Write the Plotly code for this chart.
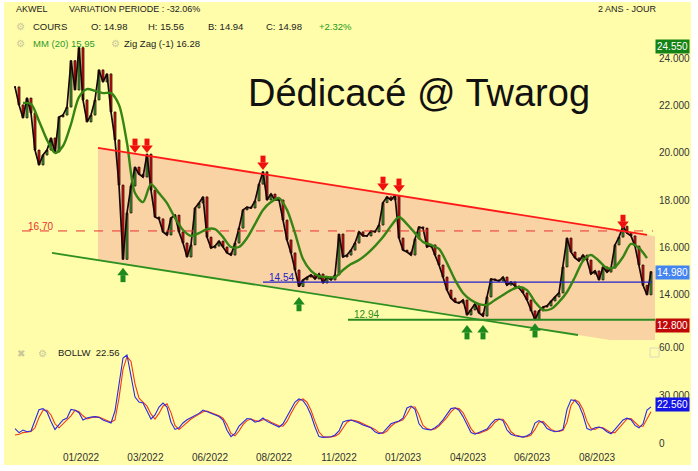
import plotly.graph_objects as go

# ---------------- data ----------------
closes = [22.79, 22.03, 21.48, 22.32, 21.69, 20.12, 19.49, 19.91, 20.12, 20.63,
          20.04, 21.52, 21.60, 21.94, 23.90, 22.66, 24.45, 22.24, 21.31, 21.60,
          22.24, 23.51, 23.00, 23.34, 21.73, 20.55, 18.64, 15.50, 17.46, 18.60,
          19.40, 19.10, 18.98, 19.95, 18.43, 17.29, 17.21, 16.66, 16.53, 17.25,
          17.37, 16.66, 16.19, 15.60, 16.11, 17.67, 17.88, 18.14, 16.44, 15.98,
          16.06, 16.27, 16.02, 15.77, 15.68, 16.19, 16.82, 17.59, 17.71, 17.67,
          17.97, 18.68, 19.20, 18.01, 18.26, 18.01, 18.01, 17.16, 16.32, 15.77,
          15.05, 14.35, 14.63, 14.75, 14.84, 14.67, 14.88, 14.50, 14.75, 14.63,
          14.84, 16.57, 15.60, 15.68, 15.89, 16.19, 16.66, 16.49, 16.49, 16.70,
          16.66, 16.95, 17.90, 18.14, 18.01, 18.20, 16.40, 15.89, 15.81, 15.68,
          16.36, 16.87, 16.82, 16.02, 16.11, 15.68, 15.26, 14.75, 14.20, 13.86,
          13.70, 13.65, 13.78, 13.15, 13.36, 13.61, 13.23, 13.10, 13.91, 14.67,
          14.63, 14.58, 14.75, 14.41, 14.54, 14.37, 14.29, 14.08, 13.78, 13.32,
          12.95, 13.32, 13.48, 13.53, 13.74, 13.91, 14.08, 15.18, 16.40, 15.81,
          15.56, 15.43, 15.68, 15.47, 14.88, 15.01, 14.63, 15.18, 14.96, 15.13,
          16.11, 16.44, 16.90, 16.61, 16.49, 16.06, 15.26, 14.40, 14.00, 14.98]

# MM(20) read every second bar, starting at bar 2
ma20 = [22.11, 22.07, 21.35, 20.55, 20.00, 20.29, 21.22, 22.36, 22.70, 22.62,
        22.53, 22.53, 22.03, 20.42, 18.30, 17.92, 18.68, 18.30, 17.88, 17.25,
        16.74, 16.49, 16.61, 16.78, 16.78, 16.44, 16.02, 16.02, 16.40, 16.99,
        17.59, 17.92, 18.09, 17.59, 16.61, 15.51, 15.01, 14.79, 14.75, 14.75,
        15.05, 15.30, 15.47, 15.73, 16.06, 16.44, 16.91, 17.29, 16.99, 16.61,
        16.23, 16.11, 15.94, 15.34, 14.63, 14.08, 13.78, 13.61, 13.57, 13.78,
        13.99, 14.20, 14.33, 14.20, 13.70, 13.36, 13.40, 13.70, 14.12, 14.75,
        15.43, 15.68, 15.43, 15.13, 15.18, 15.60, 16.15, 15.98, 15.55]

bollw = [9.0, 6.5, 8.1, 7.0, 7.5, 14.4, 20.8, 21.5, 19.4, 13.5,
         8.5, 11.5, 14.4, 15.6, 21.0, 20.5, 18.9, 14.4, 15.6, 16.2,
         16.5, 16.0, 14.4, 13.5, 12.5, 20.0, 38.0, 53.1, 55.0, 42.0,
         28.7, 25.6, 25.0, 20.0, 15.0, 17.5, 22.5, 25.0, 22.5, 13.0,
         8.5, 9.5, 12.5, 14.5, 15.8, 17.0, 18.5, 20.6, 19.5, 18.5,
         17.8, 16.5, 14.4, 8.0, 4.0, 6.0, 10.5, 13.1, 15.3, 15.0,
         13.0, 13.8, 15.6, 13.5, 12.5, 11.0, 10.0, 12.0, 16.5, 21.5,
         25.6, 27.5, 26.5, 23.0, 17.5, 10.0, 4.0, 3.5, 3.7, 3.9,
         5.0, 7.5, 13.1, 14.0, 14.4, 13.5, 12.5, 11.2, 10.5, 9.5,
         7.0, 5.8, 6.5, 9.4, 12.0, 13.0, 13.8, 15.5, 21.9, 23.1,
         21.0, 12.0, 9.0, 8.5, 8.1, 9.5, 11.5, 14.5, 18.0, 21.5,
         22.0, 20.5, 16.5, 11.0, 6.5, 5.5, 6.5, 7.5, 8.7, 12.0,
         14.5, 15.0, 14.0, 8.1, 5.5, 4.5, 4.0, 3.7, 4.5, 6.0,
         12.5, 14.0, 12.5, 9.0, 7.8, 7.0, 7.5, 8.5, 21.0, 27.0,
         26.5, 23.5, 17.5, 9.0, 8.0, 9.5, 10.0, 9.0, 7.0, 5.8,
         8.5, 11.5, 14.4, 15.5, 14.5, 11.0, 9.5, 12.0, 20.6, 22.56]

bollw_signal = [5.0, 5.5, 6.5, 7.0, 7.2, 9.5, 16.0, 20.5, 20.5, 17.5,
                12.0, 9.5, 12.0, 14.5, 17.0, 20.5, 19.5, 17.0, 15.0, 15.8,
                16.3, 16.2, 15.0, 14.0, 13.0, 14.5, 28.0, 46.0, 54.0, 51.0,
                37.0, 28.0, 25.5, 23.0, 18.0, 15.0, 18.5, 23.0, 24.5, 19.0,
                11.0, 8.5, 10.5, 13.0, 15.0, 16.5, 17.8, 19.5, 20.0, 19.0,
                18.2, 17.0, 15.5, 11.5, 6.0, 4.5, 7.5, 11.5, 14.0, 15.0,
                14.0, 13.5, 14.5, 14.5, 13.0, 11.8, 10.8, 10.5, 13.5, 18.5,
                23.0, 26.5, 27.5, 25.5, 20.5, 13.5, 7.0, 4.0, 3.6, 3.8,
                4.3, 5.8, 9.5, 13.0, 14.3, 14.0, 13.2, 12.0, 11.0, 10.0,
                8.5, 6.5, 6.0, 7.5, 10.5, 12.5, 13.5, 14.5, 18.0, 22.5,
                22.5, 17.5, 11.0, 9.0, 8.3, 8.8, 10.5, 13.0, 16.0, 19.5,
                21.8, 21.5, 19.0, 14.0, 9.0, 6.0, 6.0, 7.0, 8.0, 10.0,
                13.0, 14.8, 14.8, 11.5, 7.0, 5.0, 4.2, 3.8, 4.0, 5.0,
                8.5, 13.0, 13.5, 11.0, 8.5, 7.5, 7.3, 8.0, 13.0, 23.5,
                27.0, 25.5, 21.0, 13.5, 9.0, 8.5, 9.8, 9.5, 8.0, 6.5,
                6.5, 9.5, 12.5, 15.0, 15.3, 13.0, 10.5, 10.5, 15.5, 19.5]

tick_pos = [16.5, 32.6, 48.75, 64.75, 81, 97, 113.25, 129.25, 145.5]
tick_labels = ["01/2022", "03/2022", "06/2022", "08/2022", "11/2022",
               "01/2023", "04/2023", "06/2023", "08/2023"]

# channel (bar, price)
resist_line = [(20.75, 20.21), (158.0, 16.53)]
support_line = [(9.25, 15.77), (140.75, 12.30)]
channel_end = 160.0

levels = [16.70, 14.54, 12.94]
level_labels = ["16.70", "14.54", "12.94"]
level_start = [1.75, 62.0, 83.25]
level_end = [159.5, 159.25, 160.0]

sell_bars = [30, 33, 62, 92, 96, 152]
sell_tips = [20.00, 20.00, 19.28, 18.39, 18.31, 16.78]
buy_bars = [27, 71, 113, 117, 130]
buy_tips = [15.14, 13.91, 12.72, 12.72, 12.80]

# ---------------- layout geometry ----------------
W, H = 698, 471
ML, MR, MT, MB = 10, 40, 5, 21
PW = W - ML - MR
PH = H - MT - MB
BOT = H - MB

def fx(px):
    return (px - ML) / PW

def fy(py):
    return (BOT - py) / PH

YR = [12.089, 26.254]
Y2R = [-4.375, 63.125]
XR = [-1.25, 160.75]
main_top, main_bot = 5, 340
ppu = (main_bot - main_top) / (YR[1] - YR[0])

FONT = "Liberation Sans, Arial, sans-serif"
BG = "#FFFDA9"
PEACH = "#F9D3A3"

bars = list(range(len(closes)))
opens = [closes[0]] + closes[:-1]
highs = [max(o, c) for o, c in zip(opens, closes)]
lows = [min(o, c) for o, c in zip(opens, closes)]

def line_at(line, x):
    (x0, y0), (x1, y1) = line
    return y0 + (y1 - y0) * (x - x0) / (x1 - x0)

fig = go.Figure()

# channel shading (as a shape below the traces)
xs0 = resist_line[0][0]
pts = [(xs0, line_at(resist_line, xs0)), (channel_end, line_at(resist_line, channel_end)),
       (channel_end, line_at(support_line, channel_end)), (xs0, line_at(support_line, xs0))]
path = "M " + " L ".join(f"{x},{y}" for x, y in pts) + " Z"

# candles
fig.add_trace(go.Candlestick(
    x=bars, open=opens, high=highs, low=lows, close=closes,
    increasing=dict(line=dict(color="#2a0808", width=0.8), fillcolor="#36B236"),
    decreasing=dict(line=dict(color="#2a0808", width=0.8), fillcolor="#E41414"),
    whiskerwidth=0, xaxis="x", yaxis="y", hoverinfo="skip"))

# close path drawn over the candles (dense daily bars look like a jagged dark line)
fig.add_trace(go.Scatter(x=bars, y=closes, mode="lines",
                         line=dict(color="#1a0606", width=1.7),
                         hoverinfo="skip", xaxis="x", yaxis="y"))

# horizontal levels
lvl_colors = ["#E83030", "#2222C8", "#2A8A20"]
lvl_dash = ["dash", "solid", "solid"]
lvl_width = [1, 1.3, 2]
for v, s, e, c, d, w in zip(levels, level_start, level_end, lvl_colors, lvl_dash, lvl_width):
    fig.add_trace(go.Scatter(x=[s, e], y=[v, v], mode="lines",
                             line=dict(color=c, width=w, dash=d),
                             hoverinfo="skip", xaxis="x", yaxis="y"))

# moving average
ma_x = [2 + 2 * i for i in range(len(ma20))]
fig.add_trace(go.Scatter(x=ma_x, y=ma20, mode="lines",
                         line=dict(color="#368414", width=2.4, shape="spline", smoothing=0.8),
                         hoverinfo="skip", xaxis="x", yaxis="y"))

# channel lines
fig.add_trace(go.Scatter(x=[p[0] for p in resist_line], y=[p[1] for p in resist_line],
                         mode="lines", line=dict(color="#FF1A1A", width=1.8),
                         hoverinfo="skip", xaxis="x", yaxis="y"))
fig.add_trace(go.Scatter(x=[p[0] for p in support_line], y=[p[1] for p in support_line],
                         mode="lines", line=dict(color="#2E9020", width=1.8),
                         hoverinfo="skip", xaxis="x", yaxis="y"))

# arrows
def arrow(bx, tips, color, down):
    sgn = 1 if down else -1
    head_y = [t + sgn * 5 / ppu for t in tips]
    shaft_y = [t + sgn * 10.8 / ppu for t in tips]
    fig.add_trace(go.Scatter(x=bx, y=shaft_y, mode="markers",
                             marker=dict(symbol="line-ns", size=5,
                                         line=dict(color=color, width=5)),
                             hoverinfo="skip", xaxis="x", yaxis="y"))
    fig.add_trace(go.Scatter(x=bx, y=head_y, mode="markers",
                             marker=dict(symbol="triangle-down" if down else "triangle-up",
                                         size=10, color=color, line=dict(width=0)),
                             hoverinfo="skip", xaxis="x", yaxis="y"))

arrow(sell_bars, sell_tips, "#F01010", True)
arrow(buy_bars, buy_tips, "#1E8A1E", False)

# BOLLW panel
fig.add_trace(go.Scatter(x=bars, y=bollw_signal, mode="lines",
                         line=dict(color="#F03A1A", width=1.1),
                         hoverinfo="skip", xaxis="x2", yaxis="y2"))
fig.add_trace(go.Scatter(x=bars, y=bollw, mode="lines",
                         line=dict(color="#2A2AE0", width=1.1),
                         hoverinfo="skip", xaxis="x2", yaxis="y2"))

anns = []

def ann(text, px, py, size=9.5, color="#222222", anchor="left", **kw):
    d = dict(text=text, x=fx(px), y=fy(py), xref="paper", yref="paper",
             xanchor=anchor, yanchor="middle", showarrow=False,
             font=dict(family=FONT, size=size, color=color))
    d.update(kw)
    anns.append(d)

GEAR = "#C9C79A"
ann("AKWEL", 14, 9, 9)
ann("VARIATION PERIODE : -32.06%", 67, 9, 9)
ann("2 ANS - JOUR", 596, 9, 9)
ann("⚙", 14, 27, 10, GEAR)
ann("COURS", 31, 27, 9.5)
ann("O: 14.98", 89, 27, 9.5)
ann("H: 15.56", 146, 27, 9.5)
ann("B: 14.94", 206, 27, 9.5)
ann("C: 14.98", 264, 27, 9.5)
ann("+2.32%", 317, 27, 9.5, "#1A9A1A")
ann("⚙", 14, 43, 10, GEAR)
ann("MM (20) 15.95", 31, 43, 9.5, "#2E9A2E")
ann("⚙", 109, 43, 10, GEAR)
ann("Zig Zag (-1) 16.28", 122, 43, 9.5)
ann("Dédicacé @ Twarog", 246, 93, 38, "#111111")

ann(level_labels[0], 26, 226, 10, lvl_colors[0])
ann(level_labels[1], 267, 277, 10, lvl_colors[1])
ann(level_labels[2], 352, 315, 10, "#2A8A20")

ann("✖", 15, 353, 10, GEAR)
ann("⚙", 36, 353, 10, GEAR)
ann("BOLLW  22.56", 56, 352, 9.5)

# value boxes on right axis
def box(text, py, bg):
    anns.append(dict(text=text, x=1, y=fy(py), xref="paper", yref="paper",
                     xanchor="left", yanchor="middle", xshift=-3, showarrow=False,
                     bgcolor=bg, borderpad=1,
                     font=dict(family=FONT, size=10, color="white")))

box("24.550", 46.5, "#148214")
box("14.980", 272, "#4484F0")
box("12.800", 325, "#C00808")
box("22.560", 404, "#1414E6")

shapes = [
    dict(type="rect", xref="paper", yref="paper", x0=fx(4), x1=fx(691),
         y0=fy(465), y1=fy(2), fillcolor=BG, line=dict(width=0), layer="below"),
    dict(type="path", xref="x", yref="y", path=path, fillcolor=PEACH,
         line=dict(width=0), layer="below"),
    dict(type="rect", xref="paper", yref="paper", x0=fx(650), x1=fx(659),
         y0=fy(357), y1=fy(348), fillcolor="rgba(0,0,0,0)",
         line=dict(color="#DADAC0", width=1)),
]

fig.update_layout(
    width=W, height=H,
    margin=dict(l=ML, r=MR, t=MT, b=MB),
    paper_bgcolor="white", plot_bgcolor=BG,
    showlegend=False,
    font=dict(family=FONT, size=10, color="#222222"),
    xaxis=dict(domain=[0, 1], range=XR, anchor="y", showticklabels=False,
               showgrid=False, zeroline=False, showline=False, ticks="",
               rangeslider=dict(visible=False)),
    yaxis=dict(domain=[fy(main_bot), 1], range=YR, side="right",
               tickvals=[14, 16, 18, 20, 22, 24], tickformat=".3f",
               showgrid=False, zeroline=False, showline=False, ticks="",
               tickfont=dict(size=10, color="#333333")),
    xaxis2=dict(domain=[0, 1], range=XR, anchor="y2", matches="x",
                tickvals=tick_pos, ticktext=tick_labels,
                showgrid=False, zeroline=False, showline=False, ticks="",
                tickfont=dict(size=10, color="#333333"),
                rangeslider=dict(visible=False)),
    yaxis2=dict(domain=[0, fy(342)], range=Y2R, side="right", anchor="x2",
                tickvals=[0, 30, 60], ticktext=["0", "30.000", "60.00"],
                showgrid=False, zeroline=False, showline=False, ticks="",
                tickfont=dict(size=10, color="#333333")),
    annotations=anns,
    shapes=shapes,
)

fig.write_html("out.html", config={"displayModeBar": False},
               post_script="document.body.style.margin='0px';")
